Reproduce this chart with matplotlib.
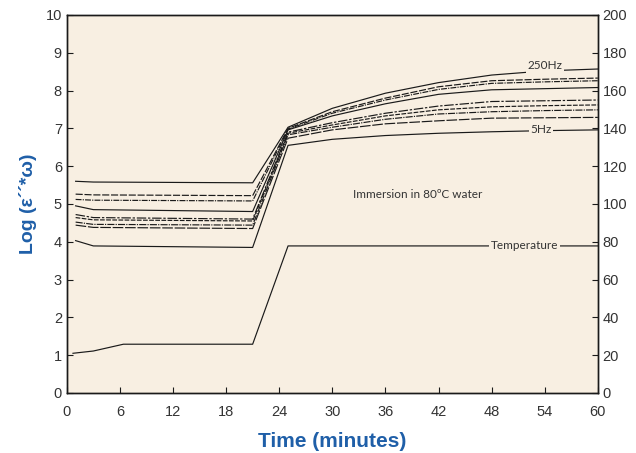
import matplotlib.pyplot as plt

# time points (minutes)
t_pre = [1, 3, 21]
t_post = [25, 30, 36, 42, 48, 54, 60]

# log(e''*w) curves, 250Hz (top) down to 5Hz (bottom)
pre_vals = [
    [5.60, 5.58, 5.56],
    [5.26, 5.24, 5.22],
    [5.12, 5.10, 5.08],
    [4.95, 4.85, 4.80],
    [4.72, 4.64, 4.60],
    [4.64, 4.58, 4.55],
    [4.52, 4.46, 4.44],
    [4.44, 4.38, 4.35],
    [4.03, 3.89, 3.85],
]
post_vals = [
    [7.03, 7.53, 7.93, 8.21, 8.41, 8.52, 8.57],
    [7.00, 7.44, 7.80, 8.10, 8.26, 8.30, 8.33],
    [6.98, 7.40, 7.75, 8.03, 8.19, 8.23, 8.26],
    [6.96, 7.33, 7.65, 7.90, 8.02, 8.05, 8.08],
    [6.90, 7.15, 7.40, 7.59, 7.71, 7.73, 7.75],
    [6.87, 7.09, 7.33, 7.49, 7.57, 7.60, 7.62],
    [6.83, 7.03, 7.24, 7.38, 7.44, 7.47, 7.49],
    [6.74, 6.96, 7.12, 7.20, 7.27, 7.28, 7.29],
    [6.55, 6.71, 6.81, 6.87, 6.91, 6.94, 6.96],
]

# temperature (deg C) on right axis
temp_t = [0.7, 3.0, 6.4, 21, 25, 60]
temp_c = [21.0, 22.2, 25.8, 25.8, 77.8, 77.8]

x_ticks = [0, 6, 12, 18, 24, 30, 36, 42, 48, 54, 60]

bg = '#f8efe2'
blue = '#1f5fa8'
ink = '#1a1a1a'
styles = ['-', (0, (6, 1.5)), (0, (5, 1, 1, 1)), '-', (0, (8, 1.5, 2, 1.5)),
          (0, (4, 1.2)), (0, (6, 1, 1, 1)), (0, (9, 1.5)), '-']

plt.rcParams['font.family'] = ['Liberation Sans', 'DejaVu Sans']

fig = plt.figure(figsize=(6.36, 4.53), dpi=100)
ax = fig.add_axes([0.105, 0.1325, 0.835, 0.8345])
ax.set_facecolor(bg)

for pv, qv, ls in zip(pre_vals, post_vals, styles):
    ax.plot(t_pre + t_post, pv + qv, color=ink, lw=0.85, ls=ls)

ax2 = ax.twinx()
ax2.plot(temp_t, temp_c, color=ink, lw=0.85)

ax.set_xlim(0, 60)
ax.set_ylim(0, 10)
ax2.set_ylim(0, 200)
ax.set_xticks(x_ticks)
ax.set_yticks(range(0, 11))
ax2.set_yticks(range(0, 201, 20))

for a in (ax, ax2):
    a.tick_params(direction='in', length=4, width=0.8, labelsize=10.5,
                  colors=ink, labelcolor='#333333')
    for s in a.spines.values():
        s.set_color(ink)
        s.set_linewidth(1.0)
ax.tick_params(axis='x', pad=9)

ax.set_xlabel('Time (minutes)', color=blue, fontsize=15, fontweight='bold', labelpad=9)
ax.set_ylabel('Log (ε´´*ω)', color=blue, fontsize=14, fontweight='bold', labelpad=6)

note = dict(fontsize=8.5, color='#333333', family=['Lato', 'DejaVu Sans'])
box = dict(facecolor=bg, edgecolor='none', pad=1.0)
ax.text(39.7, 5.26, 'Immersion in 80ºC water', ha='center', va='center', **note)
ax.text(54.0, 8.65, '250Hz', ha='center', va='center', bbox=box, **note)
ax.text(53.6, 6.96, '5Hz', ha='center', va='center', bbox=box, **note)
ax2.text(51.7, 77.8, 'Temperature', ha='center', va='center', bbox=box, **note)

fig.savefig('out.png', dpi=100)
